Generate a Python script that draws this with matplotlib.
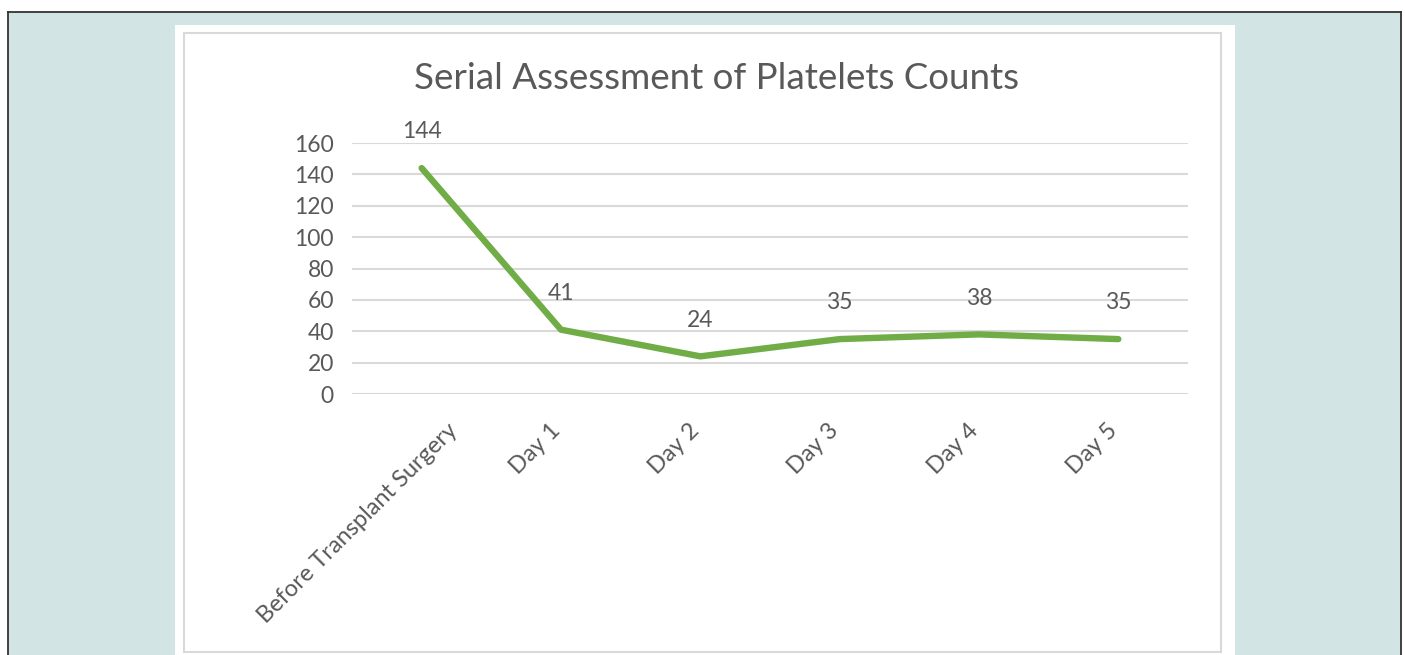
import matplotlib
matplotlib.use("Agg")
import matplotlib.pyplot as plt
from matplotlib.patches import Rectangle
from matplotlib.lines import Line2D
import matplotlib.transforms as mtransforms

# ---- data ----
categories = ["Before Transplant Surgery", "Day 1", "Day 2", "Day 3", "Day 4", "Day 5"]
platelets = [144, 41, 24, 35, 38, 35]
yticks = [0, 20, 40, 60, 80, 100, 120, 140, 160]
title = "Serial Assessment of Platelets Counts"

W, H = 1405, 655
plt.rcParams['font.family'] = ['Lato', 'DejaVu Sans']
TXT = '#595959'
GRID = '#d9d9d9'
GREEN = '#70ad47'

fig = plt.figure(figsize=(W / 100, H / 100), dpi=100, facecolor='white')


def fx(px):
    return px / W


def fy(py):
    return 1 - py / H


# teal page background with dark frame
fig.patches.append(Rectangle((fx(8), 0), fx(1401) - fx(8), fy(12), transform=fig.transFigure,
                             facecolor='#d2e5e4', edgecolor='none', zorder=0))
for (x0, y0, x1, y1) in [(8, 12, 1401, 12), (8, 12, 8, 655), (1401, 12, 1401, 655)]:
    fig.lines.append(Line2D([fx(x0), fx(x1)], [fy(y0), fy(y1)], transform=fig.transFigure,
                            color='#333333', lw=1.3, zorder=1))
# white panel
fig.patches.append(Rectangle((fx(175), 0), fx(1235) - fx(175), fy(25), transform=fig.transFigure,
                             facecolor='white', edgecolor='none', zorder=1))
# chart area border
fig.patches.append(Rectangle((fx(184), fy(652)), fx(1221) - fx(184), fy(33) - fy(652),
                             transform=fig.transFigure, facecolor='white', edgecolor=GRID,
                             lw=1.5, zorder=2))

ax = fig.add_axes([fx(352), fy(394), fx(1188) - fx(352), fy(143) - fy(394)])
ax.set_facecolor('none')
ax.set_zorder(5)
x = list(range(len(categories)))
ax.plot(x, platelets, color=GREEN, lw=4.6, solid_capstyle='round', solid_joinstyle='round', zorder=3)
ax.set_xlim(-0.5, len(categories) - 0.5)
ax.set_ylim(0, 160)
ax.set_yticks(yticks)
ax.set_yticklabels([str(t) for t in yticks])
ax.yaxis.grid(True, color=GRID, lw=1.5)
ax.set_axisbelow(True)
for s in ax.spines.values():
    s.set_visible(False)
ax.tick_params(axis='y', length=0, pad=13, labelsize=16.5, labelcolor=TXT)
ax.tick_params(axis='x', length=0)
ax.set_xticks(x)
ax.set_xticklabels([])

for i, v in enumerate(platelets):
    ax.annotate(str(v), (i, v), xytext=(0, 26), textcoords='offset points',
                ha='center', va='center', fontsize=16.5, color=TXT, zorder=4)

base = ax.get_xaxis_transform()
for i, lab in enumerate(categories):
    dx = 40 if i == 0 else 3
    tr = mtransforms.offset_copy(base, fig=fig, x=dx, y=-26, units='dots')
    ax.text(i, 0, lab, transform=tr, rotation=45, ha='right', va='top',
            fontsize=17, color=TXT)

fig.text(fx(717), fy(89), title, ha='center', va='baseline', fontsize=26.5, color=TXT)

fig.savefig('out.png', dpi=100, facecolor='white')
